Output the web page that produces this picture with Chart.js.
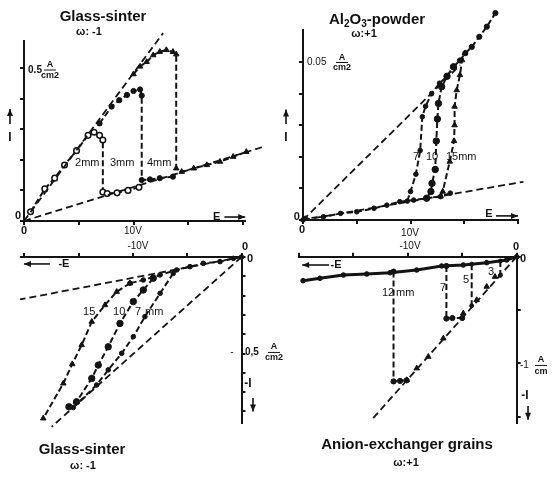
<!DOCTYPE html>
<html>
<head>
<meta charset="utf-8">
<script src="https://cdn.jsdelivr.net/npm/chart.js@4.4.0/dist/chart.umd.min.js"></script>
<style>
  body { margin: 0; background: #fff; width: 553px; height: 485px; position: relative; overflow: hidden;
         font-family: "Liberation Sans", Arial, sans-serif; color: #111; }
  canvas { position: absolute; }
  .t { position: absolute; font-weight: bold; font-size: 15px; line-height: 15px; white-space: nowrap; transform: translateX(-50%); }
  .w { font-size: 11px; line-height: 11px; }
  sub { font-size: 10px; vertical-align: -3px; line-height: 0; }
</style>
</head>
<body>
<canvas id="gsPos"></canvas>
<canvas id="alPos"></canvas>
<canvas id="gsNeg"></canvas>
<canvas id="axNeg"></canvas>

<div class="t" style="left:103px;top:8px">Glass-sinter</div>
<div class="t w" style="left:89px;top:26px">ω: -1</div>
<div class="t" style="left:377px;top:11px">Al<sub>2</sub>O<sub>3</sub>-powder</div>
<div class="t w" style="left:364px;top:28px">ω:+1</div>
<div class="t" style="left:82px;top:441px">Glass-sinter</div>
<div class="t w" style="left:83px;top:460px">ω: -1</div>
<div class="t" style="left:407px;top:436px">Anion-exchanger grains</div>
<div class="t w" style="left:406px;top:457px">ω:+1</div>

<script>
// ---- data: E in V, I in A/cm2 ----

// glass-sinter, positive polarity (top left)
const gsRefUpE = [0, 12.7];
const gsRefUpI = [0, 0.614];
const gsRefLowE = [0, 21.8];
const gsRefLowI = [0, 0.242];
const gs2mmE = [0.6, 1.9, 2.8, 3.7, 4.8, 5.85, 6.4, 6.9, 7.2, 7.2, 7.6, 8.5, 9.5, 10.5];
const gs2mmI = [0.03, 0.105, 0.14, 0.183, 0.23, 0.28, 0.29, 0.28, 0.265, 0.095, 0.09, 0.092, 0.1, 0.11];
const gs3mmE = [6.9, 8.0, 8.7, 9.4, 10.0, 10.6, 10.75, 10.75, 11.5, 12.4, 13.6];
const gs3mmI = [0.319, 0.374, 0.395, 0.412, 0.425, 0.43, 0.41, 0.134, 0.136, 0.14, 0.145];
const gs4mmE = [10.0, 10.6, 11.2, 11.8, 12.4, 13.0, 13.6, 13.9, 13.9, 14.4, 15.5, 16.7, 17.9, 19.1, 20.3, 21.7];
const gs4mmI = [0.48, 0.505, 0.52, 0.542, 0.553, 0.559, 0.553, 0.545, 0.172, 0.161, 0.172, 0.183, 0.194, 0.21, 0.226, 0.243];

// Al2O3 powder (top right)
const alRefUpE = [0, 14.6];
const alRefUpI = [0, 0.049];
const alRefLowE = [0, 20.5];
const alRefLowI = [0, 0.0121];
const alLowE = [0, 0.2, 1.9, 3.5, 5.0, 6.6, 7.8, 9.0, 10.3, 11.5, 12.8, 13.7];
const alLowI = [0, 0.0005, 0.001, 0.0021, 0.0026, 0.0037, 0.0047, 0.0058, 0.0063, 0.0069, 0.0074, 0.0085];
const alHighE = [14.0, 14.6, 15.1, 15.7, 16.4, 17.1, 17.9];
const alHighI = [0.0485, 0.0505, 0.0528, 0.0548, 0.058, 0.0612, 0.0655];
const al7E = [9.7, 10.0, 10.5, 10.9, 11.1, 11.4, 11.97, 12.7, 13.4, 14.0];
const al7I = [0.006, 0.009, 0.0145, 0.022, 0.0327, 0.036, 0.04, 0.0433, 0.0455, 0.0485];
const al10E = [11.5, 11.9, 12.0, 12.3, 12.4, 12.5, 12.6, 12.9, 13.4, 14.0];
const al10I = [0.0069, 0.009, 0.0116, 0.016, 0.025, 0.032, 0.0369, 0.0422, 0.0455, 0.0485];
const al15E = [12.8, 13.0, 13.65, 14.05, 14.1, 14.1, 14.3, 14.6, 14.8, 15.07];
const al15I = [0.0075, 0.009, 0.0185, 0.025, 0.03, 0.0359, 0.0411, 0.0459, 0.0506, 0.0528];

// glass-sinter, negative polarity (bottom left)
const gnRefSteepE = [0, -17.5];
const gnRefSteepI = [0, -0.88];
const gnRefFlatE = [0, -20.4];
const gnRefFlatI = [0, -0.22];
const gnTopE = [0, -0.75, -1.98, -3.52, -4.75, -5.97, -7.51, -9.05, -10.28];
const gnTopI = [0, -0.007, -0.024, -0.033, -0.05, -0.067, -0.093, -0.119, -0.136];
const gn15E = [-10.28, -11.5, -12.58, -13.8, -14.73, -15.6, -16.42, -18.27];
const gn15I = [-0.136, -0.18, -0.249, -0.335, -0.456, -0.555, -0.655, -0.836];
const gn10E = [-8.13, -9.05, -9.97, -11.2, -12.28, -13.2, -13.8, -15.2, -15.9];
const gn10I = [-0.11, -0.171, -0.231, -0.344, -0.465, -0.56, -0.629, -0.75, -0.776];
const gn7E = [-6.29, -7.5, -8.9, -9.97, -11.04, -12.28, -13.35, -15.5];
const gn7I = [-0.085, -0.188, -0.309, -0.413, -0.499, -0.585, -0.663, -0.78];

// anion-exchanger grains (bottom right)
const axRefE = [0, -13.3];
const axRefI = [0, -1.53];
const axTopE = [0, -0.92, -2.75, -4.9, -6.88, -9.17, -11.62, -13.76, -15.9, -18.05, -19.6];
const axTopI = [0, -0.031, -0.056, -0.078, -0.087, -0.125, -0.15, -0.162, -0.172, -0.203, -0.225];
const axSlopeE = [-1.99, -2.75, -3.67, -4.9, -6.73, -8.11, -9.17, -10.09];
const axSlopeI = [-0.188, -0.281, -0.406, -0.531, -0.766, -0.938, -1.047, -1.157];
const ax3E = [-1.5, -1.5];
const ax3I = [-0.04, -0.175];
const ax5E = [-4.13, -4.13];
const ax5I = [-0.07, -0.46];
const ax7E = [-6.45, -6.45, -5.9, -5.0];
const ax7I = [-0.087, -0.58, -0.575, -0.575];
const ax12E = [-11.3, -11.3, -10.7, -10.1];
const ax12I = [-0.14, -1.17, -1.165, -1.16];

// tick positions
const ticksPosE = [0, 5, 10, 15, 20];
const ticksNegE = [-20, -15, -10, -5, 0];
const ticksGsPosI = [0, 0.1, 0.2, 0.3, 0.4, 0.5];
const ticksAlI = [0, 0.01, 0.02, 0.03, 0.04, 0.05];
const ticksGsNegI = [0, -0.1, -0.2, -0.3, -0.4, -0.5, -0.6, -0.7, -0.8];
const ticksAxI = [0, -0.5, -1, -1.5];

// ---- drawing ----
const INK = "#141414";
const TICK = 4;
const FONT = '"Liberation Sans", Arial, sans-serif';

const pts = (E, I) => E.map((e, i) => ({ x: e, y: I[i] }));

function curve(E, I, extra) {
    return Object.assign({
        data: pts(E, I), showLine: true, clip: false,
        borderColor: INK, backgroundColor: INK, borderWidth: 2, borderDash: [6, 3],
        pointStyle: "circle", pointRadius: 2.6, pointBorderWidth: 1
    }, extra);
}
const ref = (E, I) => curve(E, I, { pointRadius: 0, borderDash: [7, 4], borderWidth: 1.8 });
const open = { backgroundColor: "#fff", pointRadius: 2.8, pointBorderWidth: 1.5 };
const tri = { pointStyle: "triangle", pointRadius: 3.2 };

// free text, fractions and arrows placed in data coordinates
function notes(items) {
    return {
        id: "notes",
        beforeDatasetsDraw(chart) {
            chart._area = chart.chartArea;
            chart.chartArea = { left: 0, top: 0, right: chart.width, bottom: chart.height, width: chart.width, height: chart.height };
        },
        afterDatasetsDraw(chart) { chart.chartArea = chart._area; },
        afterDraw(chart) {
            const { ctx } = chart;
            const X = v => chart.scales.x.getPixelForValue(v);
            const Y = v => chart.scales.y.getPixelForValue(v);
            ctx.save();
            ctx.fillStyle = INK; ctx.strokeStyle = INK; ctx.textBaseline = "middle";
            items.forEach(it => {
                if (it[0] === "txt") {
                    const [, x, y, s, align, size, bold] = it;
                    ctx.font = (bold ? "bold " : "") + (size || 11) + "px " + FONT;
                    ctx.textAlign = align || "left";
                    ctx.fillText(s, X(x), Y(y));
                } else if (it[0] === "frac") {
                    const [, x, y1, y2, top, bot] = it;
                    ctx.font = "bold 9px " + FONT;
                    ctx.textAlign = "center";
                    ctx.fillText(top, X(x), Y(y1));
                    ctx.fillText(bot, X(x), Y(y2));
                    const mid = (Y(y1) + Y(y2)) / 2;
                    ctx.lineWidth = 1;
                    ctx.beginPath(); ctx.moveTo(X(x) - 6, mid); ctx.lineTo(X(x) + 6, mid); ctx.stroke();
                } else if (it[0] === "arr") {
                    const [, x1, y1, x2, y2] = it;
                    const ax = X(x1), ay = Y(y1), bx = X(x2), by = Y(y2);
                    const a = Math.atan2(by - ay, bx - ax);
                    ctx.lineWidth = 1.6;
                    ctx.beginPath(); ctx.moveTo(ax, ay); ctx.lineTo(bx, by); ctx.stroke();
                    ctx.beginPath();
                    ctx.moveTo(bx, by);
                    ctx.lineTo(bx - 7 * Math.cos(a) + 3 * Math.sin(a), by - 7 * Math.sin(a) - 3 * Math.cos(a));
                    ctx.lineTo(bx - 7 * Math.cos(a) - 3 * Math.sin(a), by - 7 * Math.sin(a) + 3 * Math.cos(a));
                    ctx.closePath(); ctx.fill();
                }
            });
            ctx.restore();
        }
    };
}

function axis(pos, min, max, ticks) {
    return {
        type: "linear", position: pos, min: min, max: max,
        afterBuildTicks: s => { s.ticks = ticks.map(v => ({ value: v })); },
        ticks: { display: false },
        grid: { drawOnChartArea: false, drawTicks: true, tickLength: TICK, color: INK, lineWidth: 2 },
        border: { display: true, color: INK, width: 2 }
    };
}

// box = canvas on the page, area = wanted plot rectangle on the page
function panel(id, box, area, xAxis, yAxis, datasets, items) {
    const cv = document.getElementById(id);
    cv.width = box.w; cv.height = box.h;
    cv.style.left = box.x + "px"; cv.style.top = box.y + "px";
    const padding = {
        left: area.l - box.x - (yAxis.position === "left" ? TICK : 0),
        right: box.x + box.w - area.r - (yAxis.position === "right" ? TICK : 0),
        top: area.t - box.y - (xAxis.position === "top" ? TICK : 0),
        bottom: box.y + box.h - area.b - (xAxis.position === "bottom" ? TICK : 0)
    };
    new Chart(cv.getContext("2d"), {
        type: "scatter",
        data: { datasets: datasets },
        options: {
            responsive: false, animation: false, events: [],
            layout: { padding: padding, autoPadding: false },
            plugins: { legend: { display: false }, tooltip: { enabled: false } },
            scales: { x: xAxis, y: yAxis }
        },
        plugins: [notes(items)]
    });
}

panel("gsPos", { x: 0, y: 0, w: 278, h: 242 }, { l: 24, r: 245.2, t: 40.5, b: 221 },
    axis("bottom", 0, 20.2, ticksPosE), axis("left", 0, 0.59, ticksGsPosI),
    [
        ref(gsRefUpE, gsRefUpI), ref(gsRefLowE, gsRefLowI),
        curve(gs2mmE, gs2mmI, open), curve(gs3mmE, gs3mmI), curve(gs4mmE, gs4mmI, tri)
    ],
    [
        ["txt", -0.27, 0.016, "0", "right", 11, true], ["txt", 0, -0.033, "0", "center", 11, true],
        ["txt", 9.95, -0.033, "10V", "center", 10],
        ["txt", 0.37, 0.493, "0.5", "left", 10, true], ["frac", 2.37, 0.513, 0.474, "A", "cm2"],
        ["txt", 17.6, 0.013, "E", "center", 11, true], ["arr", 18.3, 0.013, 20.2, 0.013],
        ["txt", -1.28, 0.271, "I", "center", 12, true], ["arr", -1.28, 0.317, -1.28, 0.366],
        ["txt", 4.66, 0.19, "2mm", "left"], ["txt", 7.85, 0.19, "3mm", "left"], ["txt", 11.23, 0.19, "4mm", "left"]
    ]);

panel("alPos", { x: 278, y: 0, w: 275, h: 242 }, { l: 303, r: 518, t: 29.5, b: 220 },
    axis("bottom", 0, 20, ticksPosE), axis("left", 0, 0.0603, ticksAlI),
    [
        ref(alRefUpE, alRefUpI), ref(alRefLowE, alRefLowI),
        curve(alLowE, alLowI, { pointRadius: 2.3 }), curve(alHighE, alHighI),
        curve(al7E, al7I, { pointRadius: 2.3 }), curve(al10E, al10I, { pointRadius: 3.2 }), curve(al15E, al15I, tri)
    ],
    [
        ["txt", -0.28, 0.001, "0", "right", 11, true], ["txt", -0.09, -0.0032, "0", "center", 11, true],
        ["txt", 9.95, -0.0041, "10V", "center", 10],
        ["txt", 0.37, 0.05, "0.05", "left", 10], ["frac", 3.63, 0.0513, 0.0484, "A", "cm2"],
        ["txt", 17.3, 0.0019, "E", "center", 11, true], ["arr", 17.95, 0.0013, 20, 0.0013],
        ["txt", -1.58, 0.026, "I", "center", 12, true], ["arr", -1.58, 0.0304, -1.58, 0.035],
        ["txt", 10.23, 0.02, "7", "left"], ["txt", 11.44, 0.02, "10", "left"], ["txt", 13.3, 0.02, "15mm", "left"]
    ]);

panel("gsNeg", { x: 0, y: 236, w: 292, h: 204 }, { l: 21.2, r: 241.5, t: 257, b: 423 },
    axis("top", -20.3, 0, ticksNegE), axis("right", -0.86, 0, ticksGsNegI),
    [
        ref(gnRefSteepE, gnRefSteepI), ref(gnRefFlatE, gnRefFlatI),
        curve(gnTopE, gnTopI, { pointRadius: 2.3 }),
        curve(gn15E, gn15I, tri), curve(gn10E, gn10I, { pointRadius: 3.2 }), curve(gn7E, gn7I, { pointRadius: 2.3 })
    ],
    [
        ["txt", -9.54, 0.057, "-10V", "center", 10], ["txt", 0.32, 0.052, "0", "center", 11, true],
        ["txt", 0.78, -0.01, "0", "center", 11, true],
        ["txt", -16.36, -0.036, "-E", "center", 11, true], ["arr", -17.65, -0.036, -20.05, -0.036],
        ["txt", -0.88, -0.492, "-", "center", 10], ["txt", 0.32, -0.492, "0,5", "left", 10, true],
        ["frac", 3.0, -0.466, -0.523, "A", "cm2"],
        ["txt", 0.6, -0.658, "-I", "center", 12, true], ["arr", 1.06, -0.73, 1.06, -0.8],
        ["txt", -14.6, -0.285, "15", "left"], ["txt", -11.84, -0.285, "10", "left"],
        ["txt", -9.82, -0.285, "7", "left"], ["txt", -8.89, -0.285, "mm", "left"]
    ]);

panel("axNeg", { x: 292, y: 236, w: 261, h: 204 }, { l: 298.7, r: 516.7, t: 256.7, b: 423 },
    axis("top", -20, 0, ticksNegE), axis("right", -1.56, 0, ticksAxI),
    [
        ref(axRefE, axRefI),
        curve(axTopE, axTopI, { borderDash: [], borderWidth: 3, pointRadius: 2.3 }),
        curve(axSlopeE, axSlopeI, Object.assign({ showLine: false }, tri)),
        curve(ax3E, ax3I, { pointRadius: 2 }), curve(ax5E, ax5I, { pointRadius: 2 }),
        curve(ax7E, ax7I), curve(ax12E, ax12I)
    ],
    [
        ["txt", -9.79, 0.1, "-10V", "center", 10], ["txt", -0.06, 0.091, "0", "center", 11, true],
        ["txt", 0.58, -0.022, "0", "center", 11, true],
        ["txt", -16.58, -0.078, "-E", "center", 11, true], ["arr", -17.21, -0.078, -19.68, -0.078],
        ["txt", 0.3, -1.016, "-1", "left", 10], ["frac", 2.23, -0.96, -1.08, "A", "cm"],
        ["txt", 0.76, -1.3, "-I", "center", 12, true], ["arr", 1.04, -1.4, 1.04, -1.53],
        ["txt", -2.63, -0.144, "3", "left"], ["txt", -4.93, -0.219, "5", "left"],
        ["txt", -7.04, -0.294, "7", "left"], ["txt", -12.36, -0.342, "12", "left"],
        ["txt", -11.07, -0.342, "mm", "left"]
    ]);
</script>
</body>
</html>
